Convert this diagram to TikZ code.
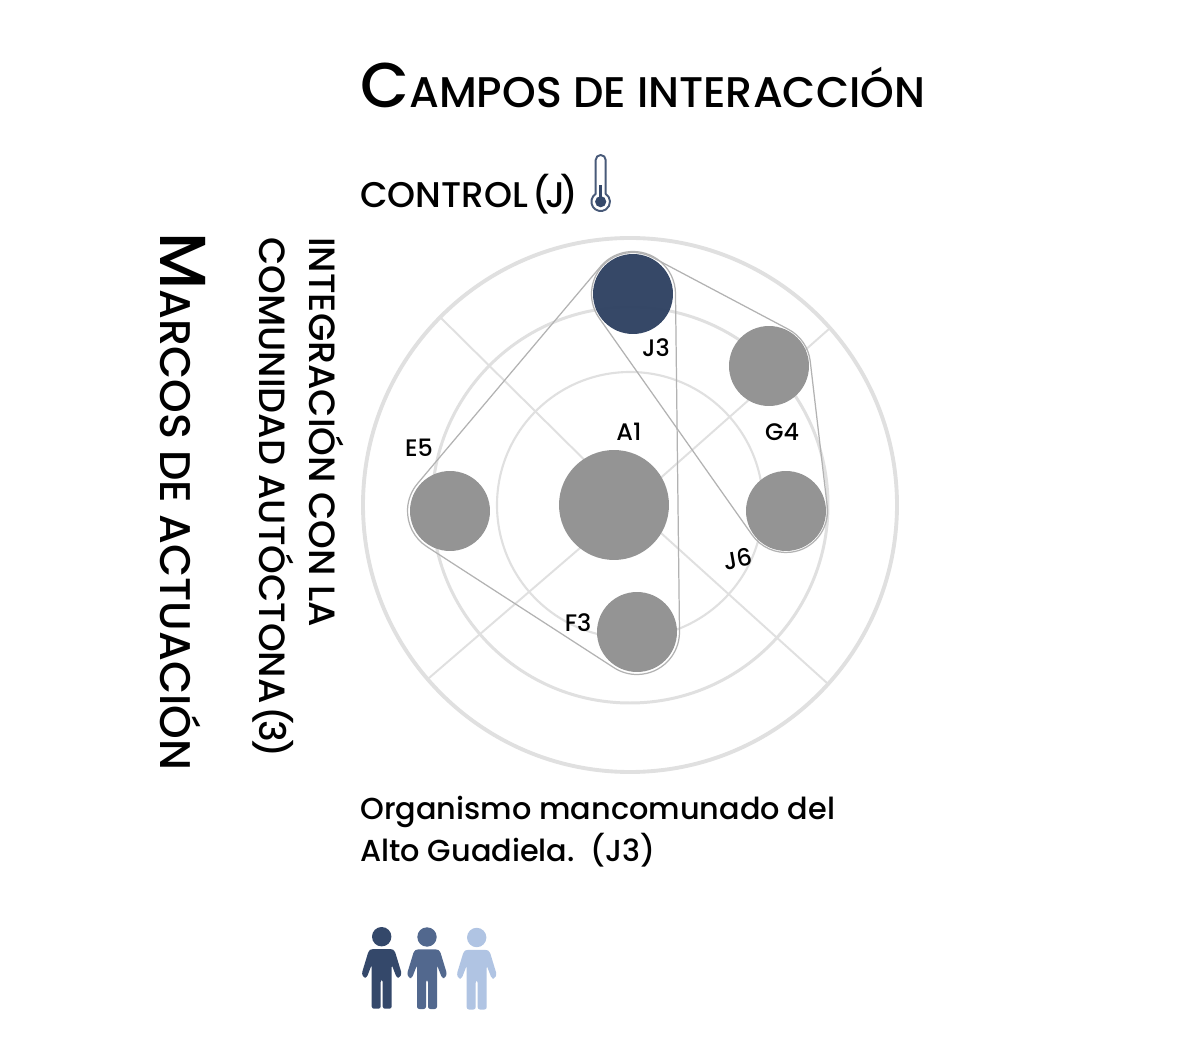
\documentclass[tikz,border=0pt]{standalone}
\usepackage{fontspec}
\setmainfont{Poppins Medium}
\usetikzlibrary{calc}
\definecolor{ringgray}{HTML}{E0E0E0}
\definecolor{hullgray}{HTML}{B2B2B2}
\definecolor{dotgray}{HTML}{949494}
\definecolor{darkblue}{HTML}{34486A}
\definecolor{midblue}{HTML}{52688E}
\definecolor{paleblue}{HTML}{B0C4E3}
\tikzset{
	dot/.style={circle,fill=dotgray,inner sep=0pt,minimum size=1.6cm},
	ring/.style={draw=ringgray},
	hull/.style={draw=hullgray,line width=0.7pt},
	tag/.style={inner sep=0pt,font=\fontsize{13.6}{15}\selectfont},
	heading/.style={inner sep=0pt,anchor=base west,font=\fontsize{20.3}{24}\selectfont},
}
\newcommand{\person}[3]{
	\fill [#3] (#1,#2) circle (9.7);
	\fill [#3,rounded corners=1.3pt] ($(#1,#2)+(-10,-12.3)$) -- ++(20,0) -- ++(3,-1.7) -- ++(7,-23) -- ++(-2,-4) -- ++(-3,0) -- ++(-5,13) -- ++(0,-44) -- ++(-9,0) -- ++(0,29) -- ++(-2,0) -- ++(0,-29) -- ++(-9,0) -- ++(0,44) -- ++(-5,-13) -- ++(-3,0) -- ++(-2,4) -- ++(7,23) -- cycle;
}
\begin{document}
\begin{tikzpicture}[line cap=round,line join=round,x=0.02cm,y=0.02cm]
	\useasboundingbox (0,0) rectangle (1181,1063);
	\fill [white] (0,0) rectangle (1181,1063);
	% rings and spokes
	\coordinate (centre) at (630,558);
	\draw [ring,line width=2.2pt] (centre) circle (267);
	\draw [ring,line width=1.7pt] (centre) circle (198);
	\draw [ring,line width=1.2pt] (centre) circle (133);
	\coordinate (ne) at (829,734);
	\coordinate (nw) at (440,746);
	\coordinate (sw) at (429,385);
	\coordinate (se) at (827,380);
	\foreach \s in {ne,nw,sw,se}
		\draw [ring,line width=1.1pt] (centre) -- (\s);
	% circles
	\node [dot,minimum size=2.2cm] (a1) at (614,558) {};
	\node [dot,fill=darkblue!93!black,fill opacity=.97] (j3) at (633,769) {};
	\node [dot] (g4) at (769,697) {};
	\node [dot] (j6) at (786,552) {};
	\node [dot] (e5) at (450,552) {};
	\node [dot] (f3) at (637,431) {};
	% hulls
	\draw [hull] ($(j3)+(62.1:41.5)$) -- ($(g4)+(62.1:41.5)$) arc [start angle=62.1,end angle=6.7,radius=41.5]
		-- ($(j6)+(6.7:41.5)$) arc [start angle=6.7,end angle=-144.8,radius=41.5]
		-- ($(j3)+(215.2:41.5)$) arc [start angle=215.2,end angle=62.1,radius=41.5] -- cycle;
	\draw [hull] ($(j3)+(139.9:42.5)$) arc [start angle=139.9,end angle=0.7,radius=42.5]
		-- ($(f3)+(0.7:42.5)$) arc [start angle=0.7,end angle=-122.9,radius=42.5]
		-- ($(e5)+(237.1:42.5)$) arc [start angle=237.1,end angle=139.9,radius=42.5] -- cycle;
	% labels
	\node [tag] (la1) at (629,631) {A1};
	\node [tag] (lj3) at (656,715) {J3};
	\node [tag] (lg4) at (782,631) {G4};
	\node [tag] (le5) at (419,615) {E5};
	\node [tag,rotate=10] (lj6) at (738,504) {J6};
	\node [tag] (lf3) at (578,440) {F3};
	% texts
	\node [heading,font=\fontsize{24.4}{28}\selectfont] (title) at (360,955) {{\fontsize{36}{38}\selectfont C}AMPOS DE INTERACCIÓN};
	\node [heading] (control) at (360,855) {CONTROL\kern-2.5pt{} (\kern-3pt J\kern-2.5pt)};
	\node [heading,rotate=-90,font=\fontsize{24.4}{28}\selectfont] (marcos) at (160,831) {{\fontsize{37}{38}\selectfont M}ARCOS DE ACTUACIÓN};
	\node [inner sep=0pt,rotate=-90,anchor=north west,align=left,font=\fontsize{20.8}{28.3}\selectfont] (marco) at (344,826) {INTEGRACIÓN CON LA\\COMUNIDAD AUTÓCTONA\kern-4pt{} (\kern-2pt 3\kern-1.5pt)};
	\node [inner sep=0pt,anchor=north west,align=left,font=\fontsize{17.25}{23.8}\selectfont] (org) at (360,267) {Organismo mancomunado del\\Alto Guadiela.\kern3pt{} (J3)};
	% thermometer
	\draw [darkblue!90!white,line width=1.1pt,fill=white] (605.7,869.1) -- (605.7,903) arc [start angle=0,end angle=180,radius=5] -- (595.7,869.1) arc [start angle=122.5,end angle=417.5,radius=9.3] -- cycle;
	\fill [darkblue] (600.7,861.3) circle (5.6);
	\fill [darkblue] (599.2,861.3) rectangle (602.2,878);
	% people
	\person{381.7}{126.3}{darkblue}
	\person{427}{126}{midblue}
	\person{476.7}{125.5}{paleblue}
\end{tikzpicture}
\end{document}
